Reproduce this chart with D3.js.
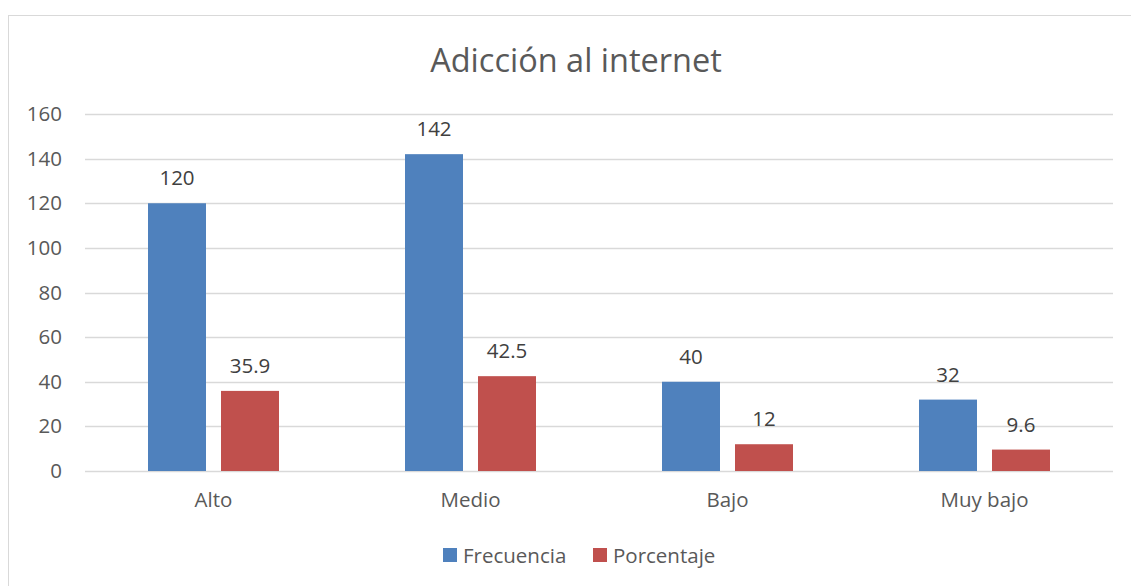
<!DOCTYPE html>
<html>
<head>
<meta charset="utf-8">
<script src="https://cdn.jsdelivr.net/npm/d3@7"></script>
<style>
  body { margin: 0; background: #fff; }
  text { font-family: "Open Sans", sans-serif; }
</style>
</head>
<body>
<div id="chart"></div>
<script>
// chart data
var categories = ["Alto", "Medio", "Bajo", "Muy bajo"];
var seriesNames = ["Frecuencia", "Porcentaje"];
var frecuencia = [120, 142, 40, 32];
var porcentaje = [35.9, 42.5, 12, 9.6];
var yTicks = [0, 20, 40, 60, 80, 100, 120, 140, 160];

var W = 1131, H = 586;
var margin = {top: 114, right: 18, bottom: 115, left: 85},
    width = W - margin.left - margin.right,
    height = H - margin.top - margin.bottom;

var svg = d3.select("#chart")
  .append("svg")
    .attr("width", W)
    .attr("height", H);

// outer chart frame (runs off the right and bottom)
svg.append("rect")
  .attr("x", 8.5).attr("y", 15.5)
  .attr("width", 1200).attr("height", 700)
  .attr("fill", "none")
  .attr("stroke", "#d9d9d9")
  .attr("stroke-width", 1);

svg.append("text")
  .attr("x", 576).attr("y", 72)
  .attr("text-anchor", "middle")
  .attr("font-size", 32.5)
  .attr("fill", "#595959")
  .text("Adicción al internet");

var g = svg.append("g")
  .attr("transform", "translate(" + margin.left + "," + margin.top + ")");

var data = categories.map(function(c, i) {
  return {group: c, values: [frecuencia[i], porcentaje[i]]};
});

var x = d3.scaleBand()
  .domain(categories)
  .range([0, width])
  .padding(0);

var y = d3.scaleLinear()
  .domain([0, 160])
  .range([height, 0]);

// gridlines
g.append("g")
  .selectAll("line")
  .data(yTicks)
  .enter().append("line")
    .attr("x1", 0).attr("x2", width)
    .attr("y1", function(d) { return Math.round(y(d)) + 0.5; })
    .attr("y2", function(d) { return Math.round(y(d)) + 0.5; })
    .attr("stroke", "#d9d9d9")
    .attr("stroke-width", 1.5);

// y axis labels
var yAxis = g.append("g")
  .call(d3.axisLeft(y).tickValues(yTicks).tickSize(0).tickPadding(23));
yAxis.select(".domain").remove();
yAxis.selectAll("text")
  .attr("font-size", 20.5)
  .attr("font-family", "Open Sans, sans-serif")
  .attr("fill", "#595959");

// x axis labels
var xAxis = g.append("g")
  .attr("transform", "translate(0," + height + ")")
  .call(d3.axisBottom(x).tickSize(0).tickPadding(21));
xAxis.select(".domain").remove();
xAxis.selectAll("text")
  .attr("font-size", 20.5)
  .attr("font-family", "Open Sans, sans-serif")
  .attr("fill", "#595959");

var xSub = d3.scaleBand()
  .domain([0, 1])
  .range([0, x.bandwidth()])
  .paddingInner(0.2055)
  .paddingOuter(0.863);

var color = d3.scaleOrdinal()
  .domain([0, 1])
  .range(["#4f81bd", "#c0504d"]);

var groups = g.append("g")
  .selectAll("g")
  .data(data)
  .enter().append("g")
    .attr("transform", function(d) { return "translate(" + x(d.group) + ",0)"; });

var cells = groups.selectAll("g")
  .data(function(d) { return d.values.map(function(v, k) { return {key: k, value: v}; }); })
  .enter().append("g");

cells.append("rect")
  .attr("x", function(d) { return xSub(d.key); })
  .attr("y", function(d) { return y(d.value); })
  .attr("width", xSub.bandwidth())
  .attr("height", function(d) { return height - y(d.value); })
  .attr("fill", function(d) { return color(d.key); });

cells.append("text")
  .attr("x", function(d) { return xSub(d.key) + xSub.bandwidth() / 2; })
  .attr("y", function(d) { return y(d.value) - 18; })
  .attr("text-anchor", "middle")
  .attr("font-size", 20.5)
  .attr("fill", "#404040")
  .text(function(d) { return d.value; });

// legend
var legendX = [443, 593];
var legend = svg.append("g")
  .selectAll("g")
  .data(seriesNames)
  .enter().append("g")
    .attr("transform", function(d, i) { return "translate(" + legendX[i] + ",548)"; });
legend.append("rect")
  .attr("width", 14).attr("height", 14)
  .attr("fill", function(d, i) { return color(i); });
legend.append("text")
  .attr("x", 20).attr("y", 15)
  .attr("font-size", 20.5)
  .attr("fill", "#595959")
  .text(function(d) { return d; });
</script>
</body>
</html>
